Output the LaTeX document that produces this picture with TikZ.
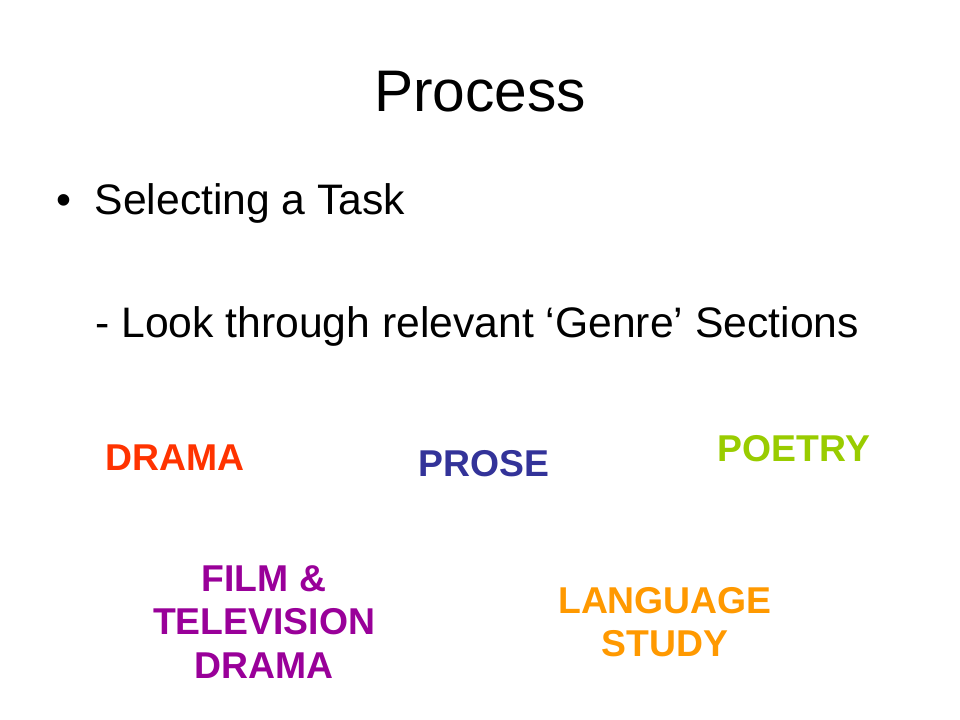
\documentclass[tikz,border=0pt]{standalone}
\usepackage{fontspec}
\setmainfont{Liberation Sans}
\begin{document}
\begin{tikzpicture}[x=0.75pt,y=-0.75pt,
  lbl/.style={font=\fontsize{28}{33}\selectfont\bfseries,align=center,inner sep=0pt}]
\useasboundingbox[fill=white] (0,0) rectangle (960,720);
\node[anchor=base,inner sep=0pt,font=\fontsize{44}{50}\selectfont] (title) at (480,112) {Process};
\node[anchor=base west,inner sep=0pt,font=\fontsize{32}{38}\selectfont] (b1) at (56,215) {•\hspace{0.55em}Selecting a Task};
\node[anchor=base west,inner sep=0pt,font=\fontsize{32}{38}\selectfont] (b2) at (95,337) {- Look through relevant ‘Genre’ Sections};
\node[lbl,text={rgb,255:red,255;green,51;blue,0},anchor=base] (drama) at (175,470) {DRAMA};
\node[lbl,text={rgb,255:red,51;green,51;blue,153},anchor=base] (prose) at (484,476) {PROSE};
\node[lbl,text={rgb,255:red,153;green,204;blue,0},anchor=base] (poetry) at (794,461) {POETRY};
\node[lbl,text={rgb,255:red,153;green,0;blue,153},font=\fontsize{28}{32.5}\selectfont\bfseries] (film) at (264,622) {FILM \&\\TELEVISION\\DRAMA};
\node[lbl,text={rgb,255:red,255;green,153;blue,0},font=\fontsize{28}{32.5}\selectfont\bfseries] (lang) at (665,622) {LANGUAGE\\STUDY};
\end{tikzpicture}
\end{document}
